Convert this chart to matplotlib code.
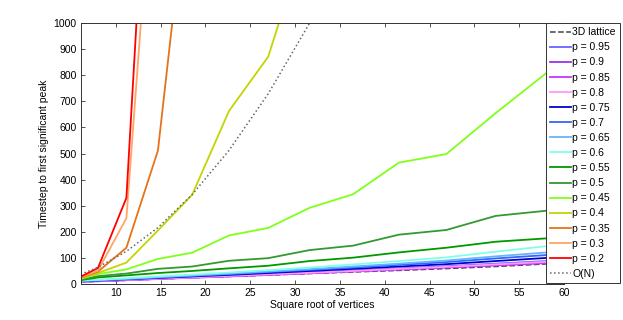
import matplotlib
matplotlib.use('Agg')
import matplotlib.pyplot as plt
import numpy as np

plt.rcParams['font.family'] = ['Liberation Sans', 'DejaVu Sans']

# number of vertices for each graph size (3D lattice sizes)
vertices = [37, 64, 125, 216, 343, 512, 729, 1000, 1331, 1728, 2197, 2744, 3375, 4096]

lattice = [8, 10, 14, 19, 24, 29, 34, 40, 46, 52, 59, 67, 77, 85]

p_labels = ['0.95', '0.9', '0.85', '0.8', '0.75', '0.7', '0.65', '0.6',
            '0.55', '0.5', '0.45', '0.4', '0.35', '0.3', '0.2']

p_values = [
    [10, 12, 16, 21, 26, 32, 38, 45, 52, 60, 68, 78, 88, 97],
    [9, 11, 15, 20, 25, 30, 36, 42, 49, 57, 65, 73, 82, 91],
    [9, 11, 15, 19, 24, 29, 35, 41, 48, 55, 63, 71, 80, 88],
    [10, 12, 16, 20, 25, 31, 37, 43, 50, 58, 66, 75, 85, 94],
    [11, 13, 18, 23, 29, 35, 42, 50, 58, 67, 76, 88, 100, 110],
    [12, 14, 19, 25, 31, 38, 46, 54, 63, 73, 84, 98, 111, 122],
    [12, 15, 20, 26, 33, 40, 48, 57, 67, 78, 90, 106, 121, 133],
    [13, 16, 22, 29, 36, 44, 53, 63, 75, 88, 102, 124, 145, 160],
    [15, 25, 33, 42, 50, 60, 70, 88, 101, 121, 139, 162, 175, 190],
    [17, 30, 40, 58, 67, 89, 99, 130, 147, 189, 207, 261, 281, 300],
    [20, 38, 56, 96, 120, 186, 215, 292, 344, 465, 498, 655, 810, 960],
    [22, 42, 82, 205, 342, 663, 871, 1370],
    [24, 47, 139, 511, 1680],
    [26, 51, 252, 1880],
    [28, 61, 330, 2430],
]

p_colors = ['#6666ff', '#9933ee', '#cc33ff', '#ff99ff', '#0000cc', '#3366ff',
            '#66b3ff', '#80ffe6', '#009900', '#339933', '#80ff1a', '#c4d400',
            '#e6731a', '#ffa666', '#ff0000']

x = np.sqrt(vertices)
fs = 7.5

fig = plt.figure(figsize=(6.23, 3.2), dpi=100)
ax = fig.add_axes([0.1295, 0.1125, 0.7758, 0.8155])

ax.plot(x, lattice, '--', color='#444444', lw=1.1, label='3D lattice')
for lab, vals, col in zip(p_labels, p_values, p_colors):
    ax.plot(x[:len(vals)], vals, color=col, lw=1.3, label='p = ' + lab)
ax.plot(x, vertices, ':', color='#666666', lw=1.1, label='O(N)')

ax.set_xlim(6.08, 60)
ax.set_ylim(0, 1000)
ax.set_xticks(np.arange(10, 61, 5))
ax.set_yticks(np.arange(0, 1001, 100))
ax.tick_params(direction='in', top=True, right=True, length=3, width=0.6,
               labelsize=fs, pad=3, color='#333333')
for s in ax.spines.values():
    s.set_color('#333333')
    s.set_linewidth(0.7)
ax.set_xlabel('Square root of vertices', fontsize=fs, labelpad=1)
ax.set_ylabel('Timestep to first significant peak', fontsize=fs, labelpad=3)

leg = fig.legend(loc='upper right', bbox_to_anchor=(0.995, 0.928),
                 fontsize=fs, frameon=True, fancybox=False, framealpha=1,
                 edgecolor='#333333', borderpad=0.4, labelspacing=0.49,
                 handlelength=2.0, handletextpad=0.1, borderaxespad=0)
leg.get_frame().set_linewidth(0.7)

fig.savefig('out.png', dpi=100)
